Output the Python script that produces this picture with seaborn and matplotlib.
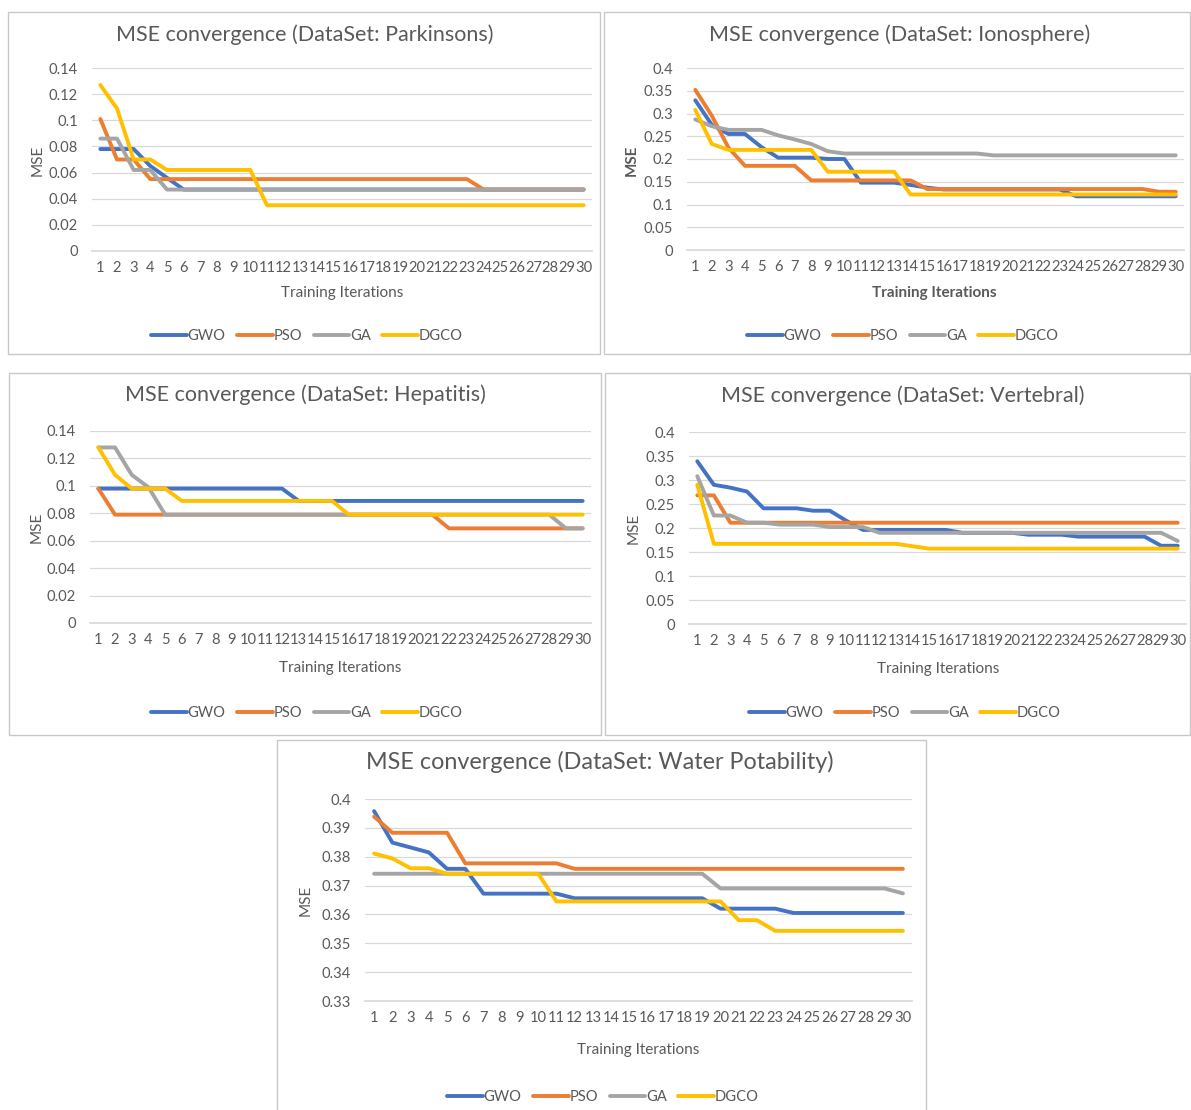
import matplotlib
matplotlib.use("Agg")
import matplotlib.pyplot as plt
from matplotlib.patches import Rectangle
import pandas as pd
import seaborn as sns

# ====================
# DATA
# ====================
iterations = list(range(1, 31))
algorithms = ["GWO", "PSO", "GA", "DGCO"]
colors = {"GWO": "#4472C4", "PSO": "#ED7D31", "GA": "#A5A5A5", "DGCO": "#FFC000"}

parkinsons_gwo = [0.078, 0.078, 0.078, 0.065, 0.056, 0.047, 0.047, 0.047, 0.047, 0.047,
                  0.047, 0.047, 0.047, 0.047, 0.047, 0.047, 0.047, 0.047, 0.047, 0.047,
                  0.047, 0.047, 0.047, 0.047, 0.047, 0.047, 0.047, 0.047, 0.047, 0.047]
parkinsons_pso = [0.101, 0.070, 0.070, 0.055, 0.055, 0.055, 0.055, 0.055, 0.055, 0.055,
                  0.055, 0.055, 0.055, 0.055, 0.055, 0.055, 0.055, 0.055, 0.055, 0.055,
                  0.055, 0.055, 0.055, 0.047, 0.047, 0.047, 0.047, 0.047, 0.047, 0.047]
parkinsons_ga = [0.086, 0.086, 0.062, 0.062, 0.047, 0.047, 0.047, 0.047, 0.047, 0.047,
                 0.047, 0.047, 0.047, 0.047, 0.047, 0.047, 0.047, 0.047, 0.047, 0.047,
                 0.047, 0.047, 0.047, 0.047, 0.047, 0.047, 0.047, 0.047, 0.047, 0.047]
parkinsons_dgco = [0.127, 0.109, 0.070, 0.070, 0.062, 0.062, 0.062, 0.062, 0.062, 0.062,
                   0.035, 0.035, 0.035, 0.035, 0.035, 0.035, 0.035, 0.035, 0.035, 0.035,
                   0.035, 0.035, 0.035, 0.035, 0.035, 0.035, 0.035, 0.035, 0.035, 0.035]

ionosphere_gwo = [0.329, 0.275, 0.255, 0.255, 0.226, 0.203, 0.203, 0.203, 0.200, 0.200,
                  0.148, 0.148, 0.148, 0.143, 0.137, 0.133, 0.133, 0.133, 0.133, 0.133,
                  0.133, 0.133, 0.133, 0.118, 0.118, 0.118, 0.118, 0.118, 0.118, 0.118]
ionosphere_pso = [0.352, 0.295, 0.225, 0.185, 0.185, 0.185, 0.185, 0.153, 0.153, 0.153,
                  0.153, 0.153, 0.153, 0.153, 0.134, 0.134, 0.134, 0.134, 0.134, 0.134,
                  0.134, 0.134, 0.134, 0.134, 0.134, 0.134, 0.134, 0.134, 0.128, 0.128]
ionosphere_ga = [0.287, 0.272, 0.264, 0.264, 0.264, 0.252, 0.243, 0.233, 0.217, 0.212,
                 0.212, 0.212, 0.212, 0.212, 0.212, 0.212, 0.212, 0.212, 0.208, 0.208,
                 0.208, 0.208, 0.208, 0.208, 0.208, 0.208, 0.208, 0.208, 0.208, 0.208]
ionosphere_dgco = [0.308, 0.233, 0.220, 0.220, 0.220, 0.220, 0.220, 0.220, 0.172, 0.172,
                   0.172, 0.172, 0.172, 0.122, 0.122, 0.122, 0.122, 0.122, 0.122, 0.122,
                   0.122, 0.122, 0.122, 0.122, 0.122, 0.122, 0.122, 0.122, 0.122, 0.122]

hepatitis_gwo = [0.098, 0.098, 0.098, 0.098, 0.098, 0.098, 0.098, 0.098, 0.098, 0.098,
                 0.098, 0.098, 0.089, 0.089, 0.089, 0.089, 0.089, 0.089, 0.089, 0.089,
                 0.089, 0.089, 0.089, 0.089, 0.089, 0.089, 0.089, 0.089, 0.089, 0.089]
hepatitis_pso = [0.098, 0.079, 0.079, 0.079, 0.079, 0.079, 0.079, 0.079, 0.079, 0.079,
                 0.079, 0.079, 0.079, 0.079, 0.079, 0.079, 0.079, 0.079, 0.079, 0.079,
                 0.079, 0.069, 0.069, 0.069, 0.069, 0.069, 0.069, 0.069, 0.069, 0.069]
hepatitis_ga = [0.128, 0.128, 0.108, 0.099, 0.079, 0.079, 0.079, 0.079, 0.079, 0.079,
                0.079, 0.079, 0.079, 0.079, 0.079, 0.079, 0.079, 0.079, 0.079, 0.079,
                0.079, 0.079, 0.079, 0.079, 0.079, 0.079, 0.079, 0.079, 0.069, 0.069]
hepatitis_dgco = [0.128, 0.108, 0.098, 0.098, 0.098, 0.089, 0.089, 0.089, 0.089, 0.089,
                  0.089, 0.089, 0.089, 0.089, 0.089, 0.079, 0.079, 0.079, 0.079, 0.079,
                  0.079, 0.079, 0.079, 0.079, 0.079, 0.079, 0.079, 0.079, 0.079, 0.079]

vertebral_gwo = [0.339, 0.290, 0.284, 0.276, 0.241, 0.241, 0.241, 0.236, 0.236, 0.215,
                 0.196, 0.196, 0.196, 0.196, 0.196, 0.196, 0.190, 0.190, 0.190, 0.190,
                 0.186, 0.186, 0.186, 0.182, 0.182, 0.182, 0.182, 0.182, 0.163, 0.163]
vertebral_pso = [0.268, 0.268, 0.211, 0.211, 0.211, 0.211, 0.211, 0.211, 0.211, 0.211,
                 0.211, 0.211, 0.211, 0.211, 0.211, 0.211, 0.211, 0.211, 0.211, 0.211,
                 0.211, 0.211, 0.211, 0.211, 0.211, 0.211, 0.211, 0.211, 0.211, 0.211]
vertebral_ga = [0.308, 0.226, 0.226, 0.211, 0.211, 0.207, 0.207, 0.207, 0.202, 0.202,
                0.202, 0.190, 0.190, 0.190, 0.190, 0.190, 0.190, 0.190, 0.190, 0.190,
                0.190, 0.190, 0.190, 0.190, 0.190, 0.190, 0.190, 0.190, 0.190, 0.173]
vertebral_dgco = [0.290, 0.167, 0.167, 0.167, 0.167, 0.167, 0.167, 0.167, 0.167, 0.167,
                  0.167, 0.167, 0.167, 0.162, 0.157, 0.157, 0.157, 0.157, 0.157, 0.157,
                  0.157, 0.157, 0.157, 0.157, 0.157, 0.157, 0.157, 0.157, 0.157, 0.157]

water_gwo = [0.3958, 0.3849, 0.3832, 0.3815, 0.3758, 0.3758, 0.3672, 0.3672, 0.3672, 0.3672,
             0.3672, 0.3656, 0.3656, 0.3656, 0.3656, 0.3656, 0.3656, 0.3656, 0.3656, 0.3620,
             0.3620, 0.3620, 0.3620, 0.3605, 0.3605, 0.3605, 0.3605, 0.3605, 0.3605, 0.3605]
water_pso = [0.3939, 0.3883, 0.3883, 0.3883, 0.3883, 0.3777, 0.3777, 0.3777, 0.3777, 0.3777,
             0.3777, 0.3758, 0.3758, 0.3758, 0.3758, 0.3758, 0.3758, 0.3758, 0.3758, 0.3758,
             0.3758, 0.3758, 0.3758, 0.3758, 0.3758, 0.3758, 0.3758, 0.3758, 0.3758, 0.3758]
water_ga = [0.3741, 0.3741, 0.3741, 0.3741, 0.3741, 0.3741, 0.3741, 0.3741, 0.3741, 0.3741,
            0.3741, 0.3741, 0.3741, 0.3741, 0.3741, 0.3741, 0.3741, 0.3741, 0.3741, 0.3690,
            0.3690, 0.3690, 0.3690, 0.3690, 0.3690, 0.3690, 0.3690, 0.3690, 0.3690, 0.3673]
water_dgco = [0.3811, 0.3794, 0.3760, 0.3760, 0.3741, 0.3741, 0.3741, 0.3741, 0.3741, 0.3741,
              0.3645, 0.3645, 0.3645, 0.3645, 0.3645, 0.3645, 0.3645, 0.3645, 0.3645, 0.3645,
              0.3580, 0.3580, 0.3543, 0.3543, 0.3543, 0.3543, 0.3543, 0.3543, 0.3543, 0.3543]

ticks_small = [0, 0.02, 0.04, 0.06, 0.08, 0.1, 0.12, 0.14]
ticks_large = [0, 0.05, 0.1, 0.15, 0.2, 0.25, 0.3, 0.35, 0.4]
ticks_water = [0.33, 0.34, 0.35, 0.36, 0.37, 0.38, 0.39, 0.4]

# ====================
# STYLE
# ====================
sns.set_theme(style="white")
plt.rcParams["font.family"] = ["Lato", "DejaVu Sans"]
TXT = "#595959"
GRID = "#D9D9D9"

W, H = 1191, 1110
fig = plt.figure(figsize=(W / 100, H / 100), dpi=100)


def fbox(x0, y0, x1, y1):
    # pixel box (top-left origin) -> figure fraction [left, bottom, width, height]
    return [x0 / W, 1 - y1 / H, (x1 - x0) / W, (y1 - y0) / H]


def panel(frame, plot, title, title_xy, series, yticks, xlabel_xy, ylabel_xy,
          legend_xy, bold=False, title_size=15.5):
    b = fbox(*frame)
    fig.add_artist(Rectangle((b[0], b[1]), b[2], b[3], transform=fig.transFigure,
                             fill=False, edgecolor="#C8C8C8", lw=1.0))
    ax = fig.add_axes(fbox(*plot))
    df = pd.DataFrame({
        "Iteration": iterations * 4,
        "MSE": series[0] + series[1] + series[2] + series[3],
        "Algorithm": [a for a in algorithms for _ in iterations],
    })
    sns.lineplot(data=df, x="Iteration", y="MSE", hue="Algorithm", hue_order=algorithms,
                 palette=colors, linewidth=2.8, ax=ax, solid_joinstyle="round")
    handles, labels = ax.get_legend_handles_labels()
    ax.get_legend().remove()
    ax.set_xlim(0.5, 30.5)
    ax.set_ylim(yticks[0], yticks[-1])
    ax.set_xticks(iterations)
    ax.set_yticks(yticks)
    ax.set_yticklabels([f"{t:g}" for t in yticks])
    ax.grid(axis="y", color=GRID, lw=0.9)
    ax.set_axisbelow(True)
    for s in ["left", "right", "top"]:
        ax.spines[s].set_visible(False)
    ax.spines["bottom"].set_color(GRID)
    ax.tick_params(axis="x", length=0, colors=TXT, labelsize=10.6, pad=7)
    ax.tick_params(axis="y", length=0, colors=TXT, labelsize=10.6, pad=10)
    ax.set_xlabel("")
    ax.set_ylabel("")
    weight = "bold" if bold else "normal"
    fig.text(title_xy[0] / W, 1 - title_xy[1] / H, title, ha="center", va="center",
             fontsize=title_size, color=TXT)
    fig.text(xlabel_xy[0] / W, 1 - xlabel_xy[1] / H, "Training Iterations", ha="center",
             va="center", fontsize=11, color=TXT, fontweight=weight)
    fig.text(ylabel_xy[0] / W, 1 - ylabel_xy[1] / H, "MSE", ha="center", va="center",
             rotation=90, fontsize=11, color=TXT, fontweight=weight)
    leg = ax.legend(handles, labels, loc="center",
                    bbox_to_anchor=(legend_xy[0] / W, 1 - legend_xy[1] / H),
                    bbox_transform=fig.transFigure, ncol=4, frameon=False,
                    fontsize=10.6, handlelength=2.4, handletextpad=0.05, columnspacing=0.8)
    for t in leg.get_texts():
        t.set_color(TXT)
    return ax


panel((8, 12, 600, 354), (92, 68, 592, 251), "MSE convergence (DataSet: Parkinsons)", (305, 35),
      [parkinsons_gwo, parkinsons_pso, parkinsons_ga, parkinsons_dgco], ticks_small,
      (342, 293), (38, 160), (307, 336))

panel((604, 12, 1190, 354), (687, 68, 1184, 250), "MSE convergence (DataSet: Ionosphere)", (900, 35),
      [ionosphere_gwo, ionosphere_pso, ionosphere_ga, ionosphere_dgco], ticks_large,
      (934, 293), (632, 160), (903, 336), bold=True)

panel((9, 373, 601, 735), (90, 431, 591, 623), "MSE convergence (DataSet: Hepatitis)", (305, 395),
      [hepatitis_gwo, hepatitis_pso, hepatitis_ga, hepatitis_dgco], ticks_small,
      (340, 668), (37, 527), (307, 713))

panel((605, 373, 1190, 735), (689, 432, 1186, 624), "MSE convergence (DataSet: Vertebral)", (903, 396),
      [vertebral_gwo, vertebral_pso, vertebral_ga, vertebral_dgco], ticks_large,
      (938, 669), (634, 528), (905, 713))

panel((277, 740, 926, 1112), (365, 799, 912, 1001), "MSE convergence (DataSet: Water Potability)", (600, 762),
      [water_gwo, water_pso, water_ga, water_dgco], ticks_water,
      (638, 1050), (306, 900), (603, 1097), title_size=16.8)

fig.savefig("out.png", dpi=100, facecolor="white")
